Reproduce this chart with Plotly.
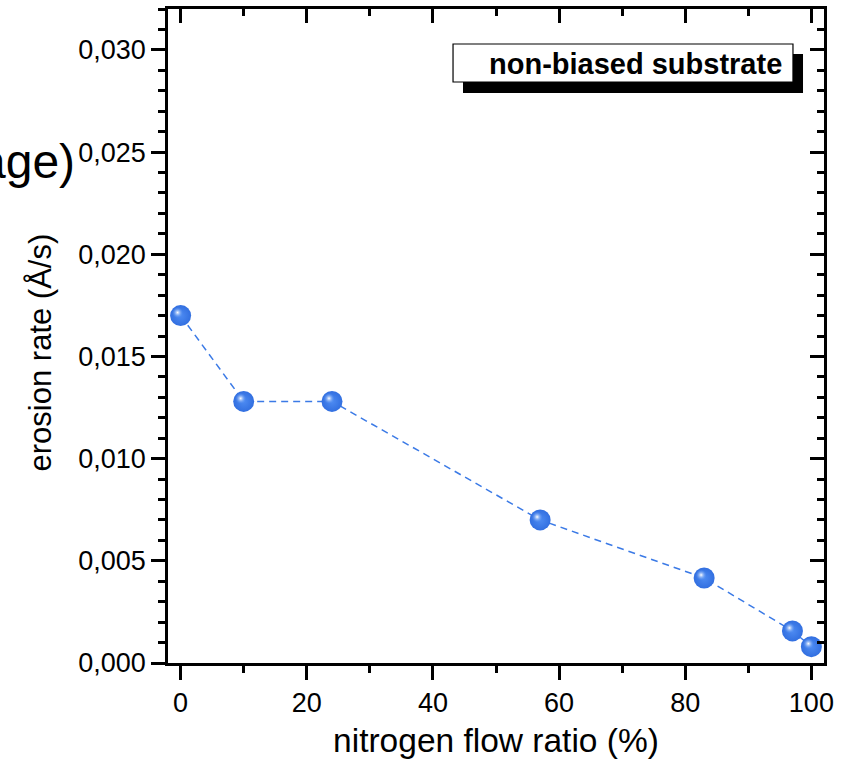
import plotly.graph_objects as go

# data
nitrogen_flow_ratio = [0, 10, 24, 57, 83, 97, 100]
erosion_rate = [0.0170, 0.0128, 0.0128, 0.0070, 0.00416, 0.00157, 0.00080]
legend_label = "non-biased substrate"
x_title = "nitrogen flow ratio (%)"
y_title = "erosion rate (Å/s)"
clipped_text = "age)"

X_RANGE = [-2, 102]
Y_RANGE = [0, 0.032]
BLUE = "#3b7ae6"
FONT = "Liberation Sans, Arial, sans-serif"

fig = go.Figure()

# dashed connecting line
fig.add_trace(go.Scatter(
    x=nitrogen_flow_ratio, y=erosion_rate, mode="lines",
    line=dict(color=BLUE, width=1.5, dash="7px,5px"),
    showlegend=False, hoverinfo="skip"))

# spheres
fig.add_trace(go.Scatter(
    x=nitrogen_flow_ratio, y=erosion_rate, mode="markers",
    marker=dict(size=21, color="#326fe0",
                gradient=dict(type="radial", color="#4d8bf2"),
                line=dict(width=0)),
    showlegend=False))

# highlights (drawn via slightly shifted overlay axes)
fig.add_trace(go.Scatter(
    x=nitrogen_flow_ratio, y=erosion_rate, mode="markers",
    xaxis="x3", yaxis="y3",
    marker=dict(size=11, color="rgba(90,150,245,0)",
                gradient=dict(type="radial", color="#ffffff"),
                line=dict(width=0)),
    showlegend=False, hoverinfo="skip"))

px_per_x = 656 / (X_RANGE[1] - X_RANGE[0])
px_per_y = 655 / (Y_RANGE[1] - Y_RANGE[0])
dx = 3 / px_per_x
dy = 3 / px_per_y

axis_common = dict(showgrid=False, zeroline=False, showline=True,
                   linecolor="black", linewidth=2.7, tickcolor="black",
                   tickwidth=2.5, ticklen=14)

fig.update_layout(
    width=851, height=763,
    margin=dict(l=168, r=27, t=9, b=98),
    paper_bgcolor="white", plot_bgcolor="white",
    separators=",.",
    font=dict(family=FONT, color="black"),
    xaxis=dict(range=X_RANGE, dtick=20, tick0=0, ticks="outside",
               tickfont=dict(size=27),
               minor=dict(dtick=10, tick0=0, ticks="outside", ticklen=7,
                          tickwidth=2.5, tickcolor="black"),
               title=dict(text=x_title, font=dict(size=33.5), standoff=12),
               **axis_common),
    yaxis=dict(range=Y_RANGE, dtick=0.005, tick0=0, ticks="outside",
               tickformat=".3f", tickfont=dict(size=27),
               minor=dict(dtick=0.001, tick0=0, ticks="outside", ticklen=7,
                          tickwidth=2.5, tickcolor="black"),
               **axis_common),
    xaxis2=dict(range=X_RANGE, overlaying="x", side="top", dtick=20, tick0=0,
                ticks="inside", showticklabels=False,
                minor=dict(dtick=10, tick0=0, ticks="inside", ticklen=7,
                           tickwidth=2.5, tickcolor="black"),
                **axis_common),
    yaxis2=dict(range=Y_RANGE, overlaying="y", side="right", dtick=0.005, tick0=0,
                ticks="inside", showticklabels=False,
                minor=dict(dtick=0.001, tick0=0, ticks="inside", ticklen=7,
                           tickwidth=2.5, tickcolor="black"),
                **axis_common),
    xaxis3=dict(range=[X_RANGE[0] + dx, X_RANGE[1] + dx], overlaying="x",
                visible=False),
    yaxis3=dict(range=[Y_RANGE[0] - dy, Y_RANGE[1] - dy], overlaying="y",
                visible=False),
)

# dummy trace to activate top/right axes
fig.add_trace(go.Scatter(x=[None], y=[None], xaxis="x2", yaxis="y2",
                         showlegend=False, hoverinfo="skip"))

# y-axis title (as annotation for exact placement)
fig.add_annotation(xref="paper", yref="paper", x=(40 - 168) / 656, y=(664 - 353) / 655,
                   xanchor="center", yanchor="middle", showarrow=False, textangle=-90,
                   text=y_title, font=dict(size=31, family=FONT, color="black"))

# legend box with shadow
fig.add_shape(type="rect", xref="paper", yref="paper",
              x0=0.4497, x1=0.968, y0=0.8716, y1=0.9312,
              fillcolor="black", line=dict(width=0), layer="above")
fig.add_shape(type="rect", xref="paper", yref="paper",
              x0=0.4345, x1=0.9527, y0=0.8884, y1=0.9465,
              fillcolor="white", line=dict(color="black", width=1.2), layer="above")
fig.add_annotation(xref="paper", yref="paper", x=(784 - 168) / 656, y=(664 - 64) / 655,
                   xanchor="right", yanchor="middle", showarrow=False,
                   text="<b>" + legend_label + "</b>",
                   font=dict(size=29, family=FONT, color="black"))

# clipped leftover text at left edge
fig.add_annotation(xref="paper", yref="paper", x=(77 - 168) / 656, y=(664 - 162) / 655,
                   xanchor="right", yanchor="middle", showarrow=False,
                   text=clipped_text, font=dict(size=48, family=FONT, color="black"))

fig.write_html("out.html", config={"displayModeBar": False},
               post_script="document.body.style.margin='0px';")
